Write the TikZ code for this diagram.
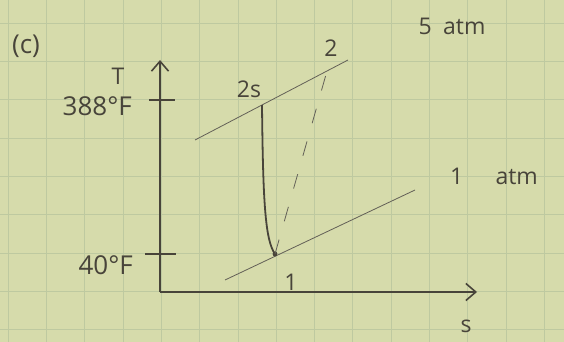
\documentclass[tikz,border=0pt]{standalone}
\usepackage{fontspec}
\setmainfont{Open Sans}
\definecolor{paper}{RGB}{214,219,171}
\definecolor{gridline}{RGB}{190,201,160}
\definecolor{pencil}{RGB}{72,68,58}
\usetikzlibrary{arrows.meta, positioning}

\begin{document}
\begin{tikzpicture}[
  x=1pt, y=-1pt,
  font=\fontsize{23}{25}\selectfont,
  axis/.style={-{Straight Barb[length=3.5mm, width=6mm]}, line width=1.6pt, pencil},
  tick/.style={line width=1.3pt, pencil},
  isobar/.style={line width=0.8pt, pencil!85},
  process/.style={line width=1.8pt, pencil},
  lbl/.style={text=pencil, inner sep=1pt},
  big/.style={font=\fontsize{26}{28}\selectfont},
]

% --- Paper and grid ---
\fill[paper] (0,0) rectangle (564,342);
\useasboundingbox (0,0) rectangle (564,342);
\foreach \gx in {0,...,14}
  \draw[gridline, line width=0.6pt] ({8+38.3*\gx},0) -- ({8+38.3*\gx},342);
\foreach \gy in {0,...,8}
  \draw[gridline, line width=0.6pt] (0,{23+38.3*\gy}) -- (564,{23+38.3*\gy});

\node[lbl, big] (part) at (26,46) {(c)};

% --- Axes ---
\coordinate (origin) at (160,292);
\coordinate (Tend) at (160,60);
\coordinate (send) at (477,292);
\draw[axis] (origin) -- (Tend);
\draw[axis] (origin) -- (send);
\node[lbl] (Tlbl) at (118,76) {T};
\node[lbl] (slbl) at (466,326) {s};

% --- Temperature ticks ---
\coordinate (hot) at (160,100);
\coordinate (cold) at (160,254);
\draw[tick] ([xshift=-11pt]hot) -- ([xshift=15pt]hot);
\draw[tick] ([xshift=-15pt]cold) -- ([xshift=16pt]cold);
\node[lbl, big, anchor=east] (hotlbl) at (133,106) {388°F};
\node[lbl, big, anchor=east] (coldlbl) at (134,265) {40°F};

% --- Isobars ---
\coordinate (hiA) at (195,140);
\coordinate (hiB) at (348,60);
\coordinate (loA) at (225,280);
\coordinate (loB) at (415,190);
\draw[isobar] (hiA) -- (hiB);
\draw[isobar] (loA) -- (loB);
\node[lbl] (hiP) at (452,26) {5\hspace{0.5em}atm};
\node[lbl] (loP) at (494,176) {1\hspace{1.4em}atm};

% --- States ---
\coordinate (s1) at (275,254);
\coordinate (s2s) at (262,105);
\coordinate (s2) at (327,71);
\fill[pencil] (s1) circle (2.4pt);
\node[lbl] (s1lbl) at (291,282) {1};
\node[lbl] (s2slbl) at (249,89) {2s};
\node[lbl] (s2lbl) at (331,48) {2};

% --- Compression paths ---
\draw[process] (s2s) .. controls (263,200) and (265,240) .. (s1);
\draw[isobar, dash pattern=on 15pt off 19pt] (s1) -- (s2);

\end{tikzpicture}
\end{document}
